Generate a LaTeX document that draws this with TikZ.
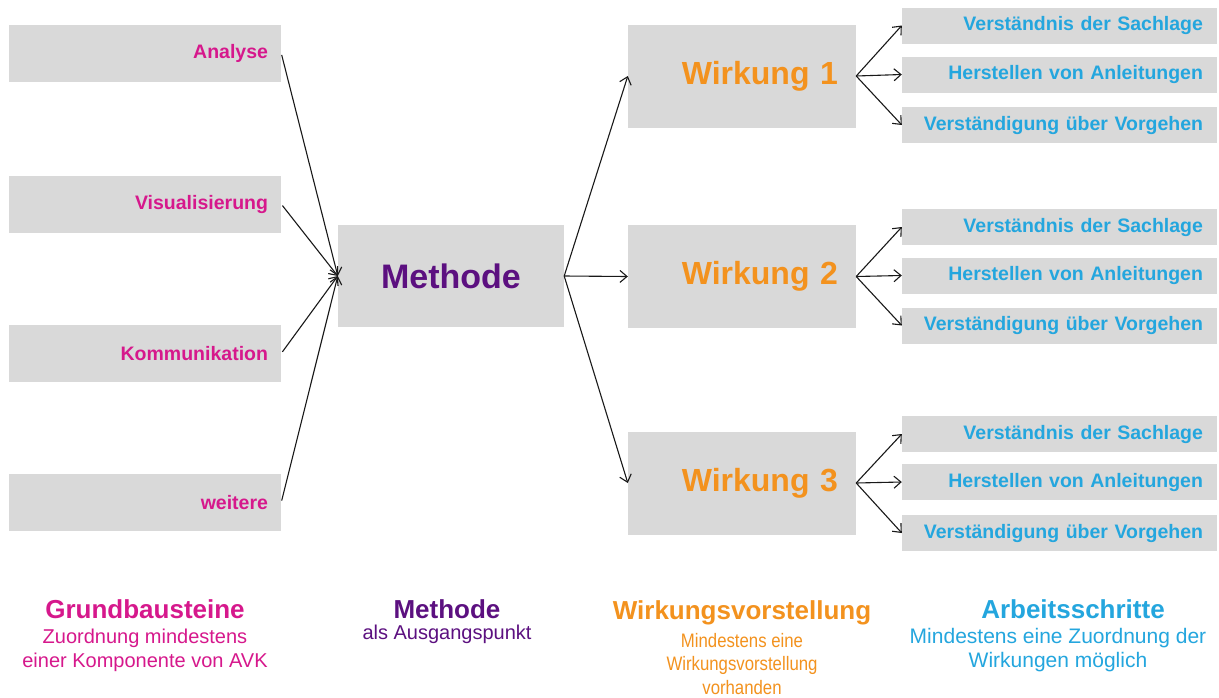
\documentclass[tikz,border=0pt]{standalone}
\usepackage{fontspec}
\setmainfont{Liberation Sans}
\newfontfamily\narrowsub[FakeStretch=0.86]{Liberation Sans}
\usetikzlibrary{arrows.meta}
\definecolor{boxgray}{RGB}{217,217,217}
\definecolor{mag}{RGB}{214,24,140}
\definecolor{purp}{RGB}{92,16,128}
\definecolor{orng}{RGB}{243,146,30}
\definecolor{cyn}{RGB}{36,166,222}
\begin{document}
\begin{tikzpicture}[x=1pt,y=-1pt,
 arr/.style={draw=black!90, line width=1.1pt, -{Straight Barb[length=7pt,width=12pt]}},
 lbox/.style={fill=boxgray, minimum height=57pt, text width=246pt, inner xsep=13pt, align=right, font=\fontsize{19.5}{22}\selectfont\bfseries, text=mag},
 mbox/.style={fill=boxgray, minimum width=226pt, minimum height=102pt, font=\fontsize{34}{40}\selectfont\bfseries, text=purp},
 wbox/.style={fill=boxgray, minimum height=103pt, text width=192pt, inner xsep=18pt, align=right, font=\fontsize{32}{38}\selectfont\bfseries, text=orng},
 rbox/.style={fill=boxgray, minimum height=36pt, text width=287pt, inner xsep=14pt, align=right, font=\fontsize{19.5}{22}\selectfont\bfseries, text=cyn},
 title/.style={font=\fontsize{26}{30}\selectfont\bfseries},
 sub/.style={font=\fontsize{20}{24}\selectfont, align=center},
 subo/.style={font=\narrowsub\fontsize{19.5}{23.5}\selectfont, align=center},
 subc/.style={font=\fontsize{21}{24}\selectfont, align=center},
]
\fill[white] (0,0) rectangle (1219,697);
\useasboundingbox (0,0) rectangle (1219,697);

\node[lbox] (l1) at (145,53) {Analyse};
\node[lbox] (l2) at (145,204) {Visualisierung};
\node[lbox] (l3) at (145,353.5) {Kommunikation};
\node[lbox] (l4) at (145,502.5) {weitere};

\node[mbox] (m) at (451,276) {Methode};

\node[wbox] (w1) at (742,76) {Wirkung 1};
\node[wbox] (w2) at (742,276.5) {Wirkung 2};
\node[wbox] (w3) at (742,483) {Wirkung 3};

\node[rbox] (r11) at (1059.5,25.5) {Verständnis der Sachlage};
\node[rbox] (r12) at (1059.5,74.5) {Herstellen von Anleitungen};
\node[rbox] (r13) at (1059.5,125) {Verständigung über Vorgehen};
\node[rbox] (r21) at (1059.5,227) {Verständnis der Sachlage};
\node[rbox] (r22) at (1059.5,275.5) {Herstellen von Anleitungen};
\node[rbox] (r23) at (1059.5,325.5) {Verständigung über Vorgehen};
\node[rbox] (r31) at (1059.5,434) {Verständnis der Sachlage};
\node[rbox] (r32) at (1059.5,482) {Herstellen von Anleitungen};
\node[rbox] (r33) at (1059.5,533) {Verständigung über Vorgehen};

\foreach \i in {1,2,3,4} \draw[arr, shorten <=2pt] (l\i.east) -- (m.west);
\foreach \i in {1,2,3} \draw[arr] (m.east) -- (w\i.west);
\foreach \i in {1,2,3} \foreach \j in {1,2,3} \draw[arr] (w\i.east) -- (r\i\j.west);

\node[title, text=mag] (t1) at (145,609) {Grundbausteine};
\node[sub, text=mag] (s1) at (145,650) {Zuordnung mindestens\\einer Komponente von AVK};
\node[title, text=purp] (t2) at (447,609) {Methode};
\node[sub, text=purp] (s2) at (447,634) {als Ausgangspunkt};
\node[title, text=orng] (t3) at (742,613) {Wirkungsvorstellung};
\node[subo, text=orng] (s3) at (742,664) {Mindestens eine\\Wirkungsvorstellung\\vorhanden};
\node[title, text=cyn] (t4) at (1073,609) {Arbeitsschritte};
\node[subc, text=cyn] (s4) at (1058,650) {Mindestens eine Zuordnung der\\Wirkungen möglich};
\end{tikzpicture}
\end{document}
